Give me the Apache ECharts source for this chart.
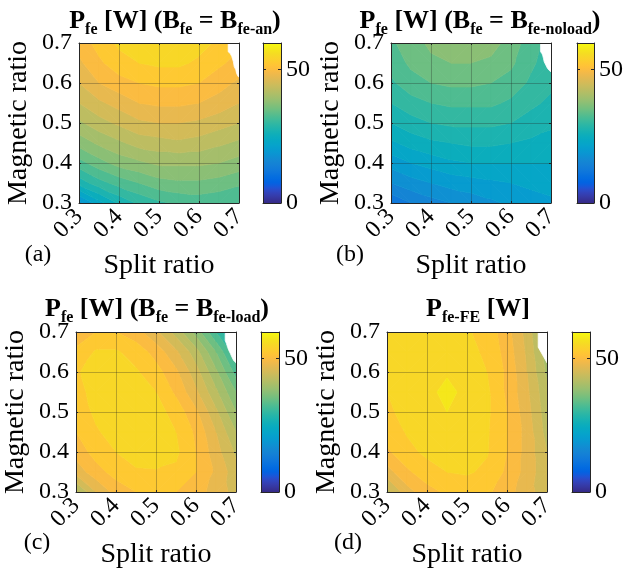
<!DOCTYPE html>
<html><head><meta charset="utf-8">
<script src="https://cdn.jsdelivr.net/npm/echarts@6/dist/echarts.min.js"></script>
<style>html,body{margin:0;padding:0;background:#fff}#c{width:626px;height:577px}</style>
</head><body><div id="c"></div><script>
// ---------------- DATA ----------------
const splitRatio = [0.3, 0.35, 0.4, 0.45, 0.5, 0.55, 0.6, 0.65, 0.7];
const magneticRatio = [0.3, 0.35, 0.4, 0.45, 0.5, 0.55, 0.6, 0.65, 0.7];
const colorTickValues = [0, 50];
const colorRange = [0, 60];
const contourStep = 2.5;
// rows: magnetic ratio 0.3 -> 0.7, columns: split ratio 0.3 -> 0.7
const lossAn = [
  [19, 24, 28, 30.5, 32, 33, 33.5, 33, 32.5],
  [28.5, 31.5, 33.5, 35, 36.5, 37, 37, 36.5, 35.5],
  [34, 36.5, 38.5, 39.5, 40.5, 40.5, 40.5, 40, 39],
  [38.5, 40.5, 42, 43.5, 44, 44.5, 44, 43, 42],
  [42, 44, 45.5, 47, 47.5, 47.5, 47, 46, 45],
  [45, 47, 48.5, 50, 50.5, 50.5, 50, 49, 47.5],
  [47.5, 50, 51.5, 52.5, 53, 53, 52.5, 51, 49.5],
  [49.5, 52, 54, 55, 55.5, 55.5, 54.5, 53, 51.5],
  [51, 53.5, 55.5, 57, 57.5, 57.5, 56, 54.5, 53]
];
const lossNoload = [
  [13, 15, 16.5, 17.5, 18.5, 19.5, 20.5, 21.5, 22],
  [17.5, 19, 20, 21, 21.5, 22, 22.5, 23, 23.5],
  [21, 22.5, 23.5, 24.5, 25, 25, 25, 25, 25],
  [24.5, 26, 27, 27.5, 28, 28, 27.5, 27, 26.5],
  [27.5, 29, 30, 30.5, 30.5, 30.5, 30, 29, 28],
  [30, 31.5, 32.5, 33, 33, 33, 32, 30.5, 29.5],
  [32, 34, 35, 35.5, 35.5, 35, 34, 32, 30.5],
  [33.5, 35.5, 37, 37.5, 37.5, 37, 35.5, 33, 31],
  [34.5, 36.5, 38, 39, 39, 38.5, 36.5, 33.5, 31.5]
];
const lossLoad = [
  [42, 47.5, 51, 52.5, 53, 52.5, 51, 49, 46.5],
  [48.5, 51.5, 53.5, 54.7, 54.8, 54.5, 52.5, 49.5, 46],
  [51, 53.5, 55, 56, 56.2, 55.5, 52.5, 48.5, 44.5],
  [52.5, 54.7, 56, 56.5, 56.3, 55, 52, 47.5, 42.5],
  [53.5, 55.5, 56.5, 56.5, 56, 54, 50.5, 45.5, 40],
  [54.2, 55.8, 56.5, 56.2, 55, 52, 48, 43, 37.5],
  [54.7, 56, 56.2, 55.3, 53.5, 50.5, 46, 40.5, 34],
  [53, 55.3, 55.3, 54, 51.5, 48, 43.5, 37.5, 30.5],
  [51, 52.5, 52.5, 51, 48, 44, 39, 32.5, 25]
];
const lossFE = [
  [44, 49, 51.5, 53, 53.5, 53, 51, 48.5, 46],
  [49, 52, 54, 55, 55.3, 54.5, 52, 49, 45.5],
  [52, 54.3, 55.5, 56, 56, 55.2, 52.5, 49, 45],
  [53.5, 55.2, 56.2, 56.8, 56.5, 55.3, 52.5, 49, 44],
  [54.5, 55.8, 56.8, 57.5, 57, 55.5, 52.5, 48.5, 43.5],
  [55, 56, 57, 58, 57, 55.5, 52, 48, 43],
  [55, 56, 56.8, 57.3, 56.3, 55, 52, 47.5, 42],
  [55.2, 56, 56.3, 56.3, 55.8, 54.5, 51.5, 47, 41],
  [55.5, 55.8, 56, 55.8, 55.3, 54, 51, 46.5, 40]
];
// invalid (empty) corner regions, [split ratio, magnetic ratio]
const notchAn = [[0.673,0.7],[0.673,0.678],[0.678,0.674],[0.682,0.666],[0.686,0.653],[0.688,0.641],[0.692,0.633],[0.694,0.624],[0.698,0.616],[0.7,0.615],[0.7,0.7]];
const notchNoload = [[0.674,0.7],[0.674,0.678],[0.677,0.674],[0.679,0.67],[0.681,0.662],[0.683,0.653],[0.687,0.645],[0.691,0.637],[0.695,0.632],[0.7,0.628],[0.7,0.7]];
const notchLoad = [[0.673,0.7],[0.673,0.679],[0.676,0.671],[0.679,0.662],[0.682,0.654],[0.686,0.646],[0.69,0.637],[0.694,0.629],[0.7,0.623],[0.7,0.7]];
const notchFE = [[0.678,0.7],[0.678,0.662],[0.7,0.623],[0.7,0.7]];
const tags = ['(a)', '(b)', '(c)', '(d)'];
const titleSubs = ['fe-an', 'fe-noload', 'fe-load'];

// ---------------- STYLE ----------------
const PARULA = [[0.2081,0.1663,0.5292],[0.2116,0.1898,0.5777],[0.2123,0.2138,0.6270],[0.2081,0.2386,0.6771],[0.1959,0.2645,0.7279],[0.1707,0.2919,0.7792],[0.1253,0.3242,0.8303],[0.0591,0.3598,0.8683],[0.0117,0.3875,0.8820],[0.0060,0.4086,0.8828],[0.0165,0.4266,0.8786],[0.0329,0.4430,0.8720],[0.0498,0.4586,0.8641],[0.0629,0.4737,0.8554],[0.0723,0.4887,0.8467],[0.0779,0.5040,0.8384],[0.0793,0.5200,0.8312],[0.0749,0.5375,0.8263],[0.0641,0.5570,0.8240],[0.0488,0.5772,0.8228],[0.0343,0.5966,0.8199],[0.0265,0.6137,0.8135],[0.0239,0.6287,0.8038],[0.0231,0.6418,0.7913],[0.0228,0.6535,0.7768],[0.0267,0.6642,0.7607],[0.0384,0.6743,0.7436],[0.0590,0.6838,0.7254],[0.0843,0.6928,0.7062],[0.1133,0.7015,0.6859],[0.1453,0.7098,0.6646],[0.1801,0.7177,0.6424],[0.2178,0.7250,0.6193],[0.2586,0.7317,0.5954],[0.3022,0.7376,0.5712],[0.3482,0.7424,0.5473],[0.3953,0.7459,0.5244],[0.4420,0.7481,0.5033],[0.4871,0.7491,0.4840],[0.5300,0.7491,0.4661],[0.5709,0.7485,0.4494],[0.6099,0.7473,0.4337],[0.6473,0.7456,0.4188],[0.6834,0.7435,0.4044],[0.7184,0.7411,0.3905],[0.7525,0.7384,0.3768],[0.7858,0.7356,0.3633],[0.8185,0.7327,0.3498],[0.8507,0.7299,0.3360],[0.8824,0.7274,0.3217],[0.9139,0.7258,0.3063],[0.9450,0.7261,0.2886],[0.9739,0.7314,0.2666],[0.9938,0.7455,0.2403],[0.9990,0.7653,0.2164],[0.9955,0.7861,0.1967],[0.9880,0.8066,0.1794],[0.9789,0.8271,0.1633],[0.9697,0.8481,0.1475],[0.9626,0.8705,0.1309],[0.9589,0.8949,0.1132],[0.9598,0.9218,0.0948],[0.9661,0.9514,0.0755],[0.9763,0.9831,0.0538]];
function rgb(c){return 'rgb('+c.map(v=>Math.round(v*255)).join(',')+')';}
function parula(t){
  t=Math.max(0,Math.min(1,t)); const f=t*63; const i=Math.floor(f); const j=Math.min(63,i+1); const w=f-i;
  return rgb(PARULA[i].map((v,k)=>v+(PARULA[j][k]-v)*w));
}
const FONT = '"Liberation Serif","Times New Roman",serif';
const AXC = '#262626';
const levels = [];
for (let v = colorRange[0]; v < colorRange[1] + 1e-9; v += contourStep) levels.push(v);

const layout = [
  {plotL:79, plotT:43, cbL:263, titleX:175, titleY:5, tagX:38, tagY:255},
  {plotL:391, plotT:43, cbL:577, titleX:480, titleY:5, tagX:350, tagY:255},
  {plotL:76, plotT:332, cbL:261, titleX:157, titleY:293, tagX:37, tagY:543},
  {plotL:387, plotT:332, cbL:572, titleX:478, titleY:293, tagX:348, tagY:543}
];
const PW = 160, PH = 160, CBW = 18;
const fields = [lossAn, lossNoload, lossLoad, lossFE];
const notches = [notchAn, notchNoload, notchLoad, notchFE];

function clip(poly, level, keepAbove){
  const out=[];
  for(let a=0;a<poly.length;a++){
    const P=poly[a], Q=poly[(a+1)%poly.length];
    const pin = keepAbove ? P[2]>=level : P[2]<=level;
    const qin = keepAbove ? Q[2]>=level : Q[2]<=level;
    if(pin) out.push(P);
    if(pin!==qin){ const t=(level-P[2])/(Q[2]-P[2]); out.push([P[0]+t*(Q[0]-P[0]), P[1]+t*(Q[1]-P[1]), level]); }
  }
  return out;
}

const grid=[], xAxis=[], yAxis=[], series=[], graphic=[];
layout.forEach((L, p) => {
  const values = fields[p];
  const g = grid.length;
  grid.push({left:L.plotL, top:L.plotT, width:PW, height:PH});
  const xb = xAxis.length;
  xAxis.push({gridIndex:g, type:'value', min:0.3, max:0.7, interval:0.1, position:'bottom', z:5,
    name:'Split ratio', nameLocation:'middle', nameGap:49,
    nameTextStyle:{fontFamily:FONT, fontSize:28, color:'#000'},
    axisLine:{show:true, lineStyle:{color:AXC, width:1}},
    axisTick:{show:true, inside:true, length:2, lineStyle:{color:AXC}},
    axisLabel:{show:true, rotate:45, margin:10, fontFamily:FONT, fontSize:24, color:'#000', formatter:v=>(+v).toFixed(1)},
    splitLine:{show:true, lineStyle:{color:'rgba(38,38,38,0.3)', width:1}}});
  xAxis.push({gridIndex:g, type:'value', min:0.3, max:0.7, interval:0.1, position:'top', z:5,
    axisLine:{show:true, onZero:false, lineStyle:{color:AXC, width:1}},
    axisTick:{show:true, inside:true, length:2, lineStyle:{color:AXC}},
    axisLabel:{show:false}, splitLine:{show:false}});
  const yb = yAxis.length;
  yAxis.push({gridIndex:g, type:'value', min:0.3, max:0.7, interval:0.1, position:'left', z:5,
    name:'Magnetic ratio', nameLocation:'middle', nameGap:46,
    nameTextStyle:{fontFamily:FONT, fontSize:28, color:'#000'},
    axisLine:{show:true, onZero:false, lineStyle:{color:AXC, width:1}},
    axisTick:{show:true, inside:true, length:2, lineStyle:{color:AXC}},
    axisLabel:{show:true, margin:7, fontFamily:FONT, fontSize:24, color:'#000', formatter:v=>(+v).toFixed(1)},
    splitLine:{show:true, lineStyle:{color:'rgba(38,38,38,0.3)', width:1}}});
  yAxis.push({gridIndex:g, type:'value', min:0.3, max:0.7, interval:0.1, position:'right', z:5,
    axisLine:{show:true, onZero:false, lineStyle:{color:AXC, width:1}},
    axisTick:{show:true, inside:true, length:2, lineStyle:{color:AXC}},
    axisLabel:{show:false}, splitLine:{show:false}});

  const data=[];
  magneticRatio.forEach((y,j)=>splitRatio.forEach((x,i)=>data.push([x,y,values[j][i],i,j])));
  series.push({type:'custom', xAxisIndex:xb, yAxisIndex:yb, z:2, silent:true, clip:true,
    encode:{x:0, y:1}, data,
    renderItem(params, api){
      const i=api.value(3), j=api.value(4);
      if(i>=splitRatio.length-1 || j>=magneticRatio.length-1) return null;
      const P=(a,b)=>[splitRatio[a], magneticRatio[b], values[b][a]];
      const c00=P(i,j), c10=P(i+1,j), c11=P(i+1,j+1), c01=P(i,j+1);
      const tris = Math.abs(c00[2]-c11[2]) <= Math.abs(c10[2]-c01[2])
        ? [[c00,c10,c11],[c00,c11,c01]] : [[c00,c10,c01],[c10,c11,c01]];
      const children=[];
      tris.forEach(tri=>{
        const vs=tri.map(q=>q[2]); const vmin=Math.min(...vs), vmax=Math.max(...vs);
        for(let k=0;k<levels.length;k++){
          const lo=levels[k], hi=(k+1<levels.length)?levels[k+1]:Infinity;
          if(hi<=vmin || lo>vmax) continue;
          let poly=clip(tri,lo,true); if(poly.length<3) continue;
          if(hi!==Infinity){ poly=clip(poly,hi,false); if(poly.length<3) continue; }
          const col=parula((lo-colorRange[0])/(colorRange[1]-colorRange[0]));
          children.push({type:'polygon', shape:{points:poly.map(q=>api.coord([q[0],q[1]]))},
            style:{fill:col, stroke:col, lineWidth:0.7}});
        }
      });
      return {type:'group', children};
    }});
  const notch = notches[p];
  series.push({type:'custom', xAxisIndex:xb, yAxisIndex:yb, z:3, silent:true, clip:true,
    encode:{x:0, y:1}, data:notch,
    renderItem(params, api){
      if(params.dataIndex!==0) return null;
      return {type:'polygon', shape:{points:notch.map(q=>api.coord(q))}, style:{fill:'#fff', stroke:'#fff', lineWidth:0.8}};
    }});

  // colorbar
  const cg = grid.length;
  grid.push({left:L.cbL, top:L.plotT, width:CBW, height:PH});
  const cx = xAxis.length;
  xAxis.push({gridIndex:cg, type:'category', data:['c'], position:'bottom', z:5,
    axisLine:{show:true, lineStyle:{color:AXC}}, axisTick:{show:false}, axisLabel:{show:false}, splitLine:{show:false}});
  xAxis.push({gridIndex:cg, type:'category', data:['c'], position:'top', z:5,
    axisLine:{show:true, onZero:false, lineStyle:{color:AXC}}, axisTick:{show:false}, axisLabel:{show:false}, splitLine:{show:false}});
  const cy = yAxis.length;
  yAxis.push({gridIndex:cg, type:'value', min:colorRange[0], max:colorRange[1], position:'right', z:5,
    axisLine:{show:true, onZero:false, lineStyle:{color:AXC}},
    axisTick:{show:true, inside:true, length:3, customValues:colorTickValues, lineStyle:{color:AXC}},
    axisLabel:{show:true, margin:5, customValues:colorTickValues, fontFamily:FONT, fontSize:24, color:'#000'},
    splitLine:{show:false}});
  yAxis.push({gridIndex:cg, type:'value', min:colorRange[0], max:colorRange[1], position:'left', z:5,
    axisLine:{show:true, onZero:false, lineStyle:{color:AXC}},
    axisTick:{show:true, inside:true, length:3, customValues:colorTickValues, lineStyle:{color:AXC}},
    axisLabel:{show:false}, splitLine:{show:false}});
  series.push({type:'bar', xAxisIndex:cx, yAxisIndex:cy, data:[colorRange[1]], barWidth:'100%', silent:true, z:2,
    itemStyle:{color:{type:'linear', x:0, y:1, x2:0, y2:0,
      colorStops:PARULA.map((c,i)=>({offset:i/63, color:rgb(c)}))}}});

  let text;
  if (p < 3) text = '{m|P}{s|fe}{m| [W] (B}{s|fe}{m| = B}{s|'+titleSubs[p]+'}{m|)}';
  else text = '{m|P}{s|fe-FE}{m| [W]}';
  graphic.push({type:'text', x:L.titleX, y:L.titleY, silent:true,
    style:{text, align:'center', verticalAlign:'top',
      rich:{m:{fontFamily:FONT, fontSize:26, fontWeight:'bold', lineHeight:33, fill:'#000'},
            s:{fontFamily:FONT, fontSize:16, fontWeight:'bold', lineHeight:13, verticalAlign:'bottom', fill:'#000'}}}});
  graphic.push({type:'text', x:L.tagX, y:L.tagY, silent:true,
    style:{text:tags[p], align:'center', verticalAlign:'middle', fontFamily:FONT, fontSize:24, fill:'#000'}});
});

const chart = echarts.init(document.getElementById('c'), null, {renderer:'canvas'});
chart.setOption({backgroundColor:'#fff', animation:false, grid, xAxis, yAxis, series, graphic});
</script></body></html>
